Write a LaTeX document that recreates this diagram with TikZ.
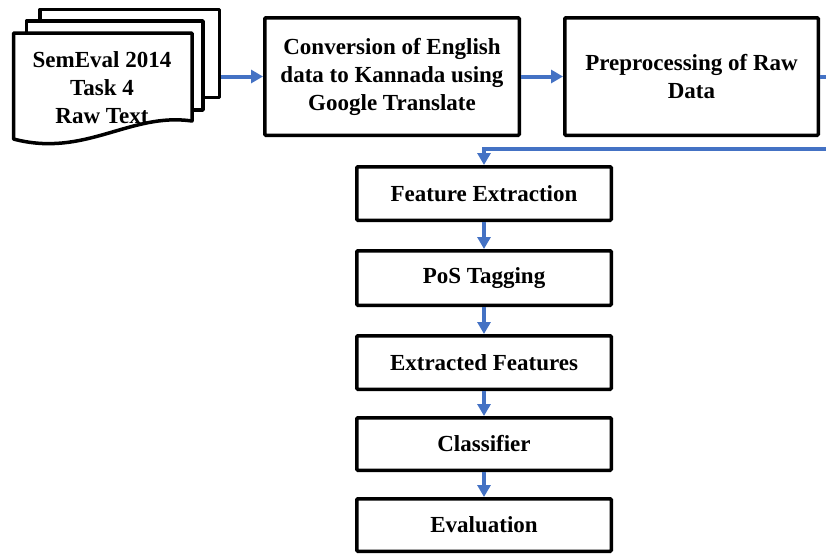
\documentclass[tikz,border=0pt]{standalone}
\usepackage{fontspec}
\setmainfont{Liberation Serif}
\usetikzlibrary{arrows.meta}
\definecolor{arrblue}{RGB}{68,114,196}
\tikzset{
  stepbox/.style={draw=black, line width=3.5pt, fill=white, rounded corners=1pt,
    align=center, inner sep=0pt, font=\fontsize{23}{28}\selectfont\bfseries},
  page/.style={draw=black, line width=3.5pt, fill=white, line join=round},
  flow/.style={draw=arrblue, line width=4pt, -{Triangle[length=12pt,width=13pt]}},
  flowline/.style={draw=arrblue, line width=4pt}
}
\begin{document}
\begin{tikzpicture}[x=1pt,y=-1pt]
\useasboundingbox (0,0) rectangle (826,555);
% stacked documents
\path[page] (40,9.5) rectangle (219.5,97.5);
\path[page] (26.5,21) rectangle (203,110);
\path[page] (13.5,33) -- (192,33) -- (192,121)
  .. controls (130,112) and (85,158) .. (13.5,139) -- cycle;
\node[font=\fontsize{23}{28}\selectfont\bfseries, align=center] (doc) at (102,88) {SemEval 2014\\Task 4\\Raw Text};
\coordinate (docout) at (221,76.5);
% top row
\node[stepbox, minimum width=254.5pt, minimum height=117.5pt] (conv) at (392,76.5)
  {Conversion of English\\data to Kannada using\\Google Translate};
\node[stepbox, minimum width=253.5pt, minimum height=117.5pt] (prep) at (691.5,76.5)
  {Preprocessing of Raw\\Data};
% vertical column
\node[stepbox, minimum width=254.5pt, minimum height=53.5pt] (fe) at (484,193.5) {Feature Extraction};
\node[stepbox, minimum width=254.5pt, minimum height=54.5pt] (pos) at (484,278) {PoS Tagging};
\node[stepbox, minimum width=254.5pt, minimum height=53.5pt] (ef) at (484,362.5) {Extracted Features};
\node[stepbox, minimum width=254.5pt, minimum height=52.5pt] (cl) at (484,444) {Classifier};
\node[stepbox, minimum width=254.5pt, minimum height=52.5pt] (ev) at (484,525) {Evaluation};
% connectors
\draw[flow] (docout) -- (conv.west);
\draw[flow] (conv.east) -- (prep.west);
\coordinate (offr) at (832,76.5);
\coordinate (retr) at (832,149);
\coordinate (retl) at (484,149);
\draw[flowline] (prep.east) -- (offr);
\draw[flow] (retr) -- (retl) -- (fe.north);
\draw[flow] (fe) -- (pos);
\draw[flow] (pos) -- (ef);
\draw[flow] (ef) -- (cl);
\draw[flow] (cl) -- (ev);
\end{tikzpicture}
\end{document}
